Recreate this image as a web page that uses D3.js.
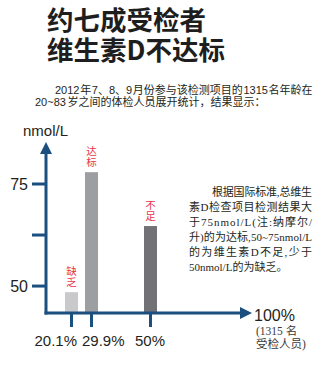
<!DOCTYPE html>
<html>
<head>
<meta charset="utf-8">
<script src="https://cdn.jsdelivr.net/npm/d3@7"></script>
<style>
  html, body { margin: 0; padding: 0; background: #fff; }
  svg { display: block; }
</style>
</head>
<body>
<svg id="chart" width="327" height="367"></svg>
<script>
// Vitamin D status of 1315 examinees (Jul–Sep 2012)
const categories = ["缺乏", "达标", "不足"];
const shares = [20.1, 29.9, 50];            // cumulative share on the x axis (%)
const values = [48.5, 77.9, 64.7];          // nmol/L
const shareLabels = ["20.1%", "29.9%", "50%"];
const yTicks = [50, 62.5, 75];
const yTickLabels = ["50", "", "75"];

const titleLines = ["约七成受检者", "维生素D不达标"];
const introLines = [
  "2012 年 7、8、9 月份参与该检测项目的 1315 名年龄在",
  "20~83 岁之间的体检人员展开统计，结果显示："
];
const noteLines = [
  "根据国际标准,总维生",
  "素D检查项目检测结果大",
  "于75nmol/L(注:纳摩尔/",
  "升)的为达标,50~75nmol/L",
  "的为维生素D不足,少于",
  "50nmol/L的为缺乏。"
];

const svg = d3.select("#chart");
const axisColor = "#1a4f80";
const barColors = ["#c9c9cb", "#9d9ea1", "#727276"];
const red = "#e8334a";
const ink = "#231f20";
const sans = "Arial, 'Liberation Sans', 'Noto Sans CJK SC', sans-serif";
const serif = "'Liberation Serif', 'Noto Sans CJK SC', serif";

// Scales: the x axis is drawn schematically, so it is piecewise linear
const x = d3.scaleLinear()
  .domain([0, 20.1, 29.9, 50, 100])
  .range([46, 71, 91, 150, 252]);
const y = d3.scaleLinear()
  .domain([43.4, 75])
  .range([313, 184]);
const yTop = 85.3;
const barW = 13;

// Title (two lines in one text block)
svg.append("text")
  .attr("font-family", "'Noto Sans CJK SC', sans-serif")
  .attr("font-weight", 700)
  .attr("font-size", 26.5)
  .attr("fill", "#1e1e1e")
  .selectAll("tspan").data(titleLines).join("tspan")
  .attr("x", 47)
  .attr("y", (d, i) => 30 + i * 30)
  .text(d => d);

// Intro paragraph
const intro = svg.append("g")
  .attr("font-family", sans)
  .attr("font-size", 11)
  .attr("fill", ink);
intro.append("text").attr("x", 55).attr("y", 94)
  .style("word-spacing", "-2.4px")
  .text(introLines[0]);
intro.append("text").attr("x", 35).attr("y", 106)
  .style("word-spacing", "-1.5px")
  .text(introLines[1]);

// Bars
svg.append("g").selectAll("rect").data(values).join("rect")
  .attr("x", (d, i) => x(shares[i]) - barW / 2 + 0.5)
  .attr("y", d => y(d))
  .attr("width", barW)
  .attr("height", d => y(y.domain()[0]) - y(d))
  .attr("fill", (d, i) => barColors[i]);

// Vertical red category labels above the bars
const catSize = 10.5;
svg.append("g")
  .attr("font-family", "'Noto Sans CJK SC', sans-serif")
  .attr("font-size", catSize)
  .attr("fill", red)
  .selectAll("text").data(categories).join("text")
  .style("writing-mode", "vertical-rl")
  .style("text-orientation", "upright")
  .attr("x", (d, i) => x(shares[i]) + 0.5)
  .attr("y", (d, i) => y(values[i]) - 5 - Array.from(d).length * catSize)
  .text(d => d);

// Axes
const ax = svg.append("g").attr("stroke", axisColor).attr("fill", "none");
ax.append("line")
  .attr("x1", x(0)).attr("x2", x(0))
  .attr("y1", y(y.domain()[0]) + 1.5).attr("y2", y(yTop) + 9)
  .attr("stroke-width", 3);
ax.append("line")
  .attr("x1", x(0) - 1.5).attr("x2", x(100) - 10)
  .attr("y1", y(y.domain()[0])).attr("y2", y(y.domain()[0]))
  .attr("stroke-width", 3);

// Arrow heads
svg.append("path")
  .attr("d", `M${x(0)},${y(yTop)} L${x(0) + 6},${y(yTop) + 12} L${x(0) - 6},${y(yTop) + 12}Z`)
  .attr("fill", axisColor);
svg.append("path")
  .attr("d", `M${x(100)},${y(y.domain()[0])} L${x(100) - 12},${y(y.domain()[0]) - 6} L${x(100) - 12},${y(y.domain()[0]) + 6}Z`)
  .attr("fill", axisColor);

// Y ticks
ax.selectAll("line.yt").data(yTicks).join("line")
  .attr("class", "yt")
  .attr("x1", x(0) - 14).attr("x2", x(0))
  .attr("y1", d => y(d)).attr("y2", d => y(d))
  .attr("stroke-width", 3);
svg.append("g").selectAll("text").data(yTicks).join("text")
  .attr("x", 28)
  .attr("y", d => y(d) + 6)
  .attr("text-anchor", "end")
  .attr("font-family", sans)
  .attr("font-size", 16)
  .attr("fill", ink)
  .text((d, i) => yTickLabels[i]);

// X ticks
ax.selectAll("line.xt").data(shares).join("line")
  .attr("class", "xt")
  .attr("x1", d => x(d) + 0.5).attr("x2", d => x(d) + 0.5)
  .attr("y1", y(y.domain()[0])).attr("y2", y(y.domain()[0]) + 14)
  .attr("stroke-width", 3);
const anchors = ["end", "start", "middle"];
const shifts = [6, -9, 0];
svg.append("g").selectAll("text").data(shares).join("text")
  .attr("x", (d, i) => x(d) + shifts[i])
  .attr("y", 346)
  .attr("text-anchor", (d, i) => anchors[i])
  .attr("font-family", sans)
  .attr("font-size", 15)
  .attr("fill", ink)
  .text((d, i) => shareLabels[i]);

// Axis titles
svg.append("text")
  .attr("x", 23).attr("y", 136)
  .attr("font-family", sans).attr("font-size", 15).attr("fill", ink)
  .text("nmol/L");
svg.append("text")
  .attr("x", 254).attr("y", 321)
  .attr("font-family", sans).attr("font-size", 16).attr("fill", ink)
  .text("100%");
const sub = svg.append("g")
  .attr("font-family", serif).attr("font-size", 11.5).attr("fill", "#3a3a3a");
sub.append("text").attr("x", 256).attr("y", 335).text("(1315 名");
sub.append("text").attr("x", 256).attr("y", 348).text("受检人员)");

// Note block, justified
const note = svg.append("g")
  .attr("font-family", serif)
  .attr("font-size", 11)
  .attr("fill", ink);
noteLines.forEach((line, i) => {
  const x0 = i === 0 ? 212 : 189;
  const t = note.append("text")
    .attr("x", x0)
    .attr("y", 196 + i * 15)
    .text(line);
  if (i < noteLines.length - 1) {
    t.attr("textLength", 312 - x0).attr("lengthAdjust", "spacing");
  }
});
</script>
</body>
</html>
